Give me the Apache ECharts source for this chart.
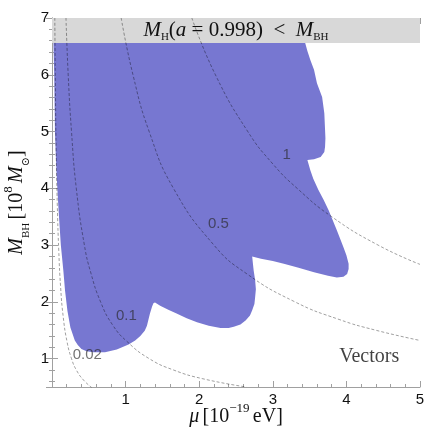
<!DOCTYPE html>
<html>
<head>
<meta charset="utf-8">
<script src="https://cdn.jsdelivr.net/npm/echarts@6/dist/echarts.min.js"></script>
<style>
  html, body { margin: 0; padding: 0; background: #fff; }
  #main { width: 436px; height: 438px; }
</style>
</head>
<body>
<div id="main"></div>
<script>
  // excluded region in the (mu, M_BH) plane, traced along its edge
  var regionEdge = [
    [0.02, 6.56], [0.03, 6.0], [0.04, 5.0], [0.06, 4.3], [0.09, 3.6], [0.12, 3.0],
    [0.154, 2.55], [0.177, 2.2], [0.21, 1.84], [0.25, 1.55], [0.31, 1.32], [0.35, 1.24],
    [0.40, 1.17], [0.47, 1.13], [0.56, 1.11], [0.72, 1.11], [0.88, 1.16], [1.04, 1.25],
    [1.13, 1.32], [1.20, 1.40], [1.26, 1.49], [1.29, 1.58], [1.33, 1.79], [1.36, 1.92],
    [1.38, 1.98], [1.40, 1.99], [1.47, 1.93], [1.58, 1.86], [1.70, 1.79], [1.83, 1.71],
    [1.97, 1.64], [2.13, 1.58], [2.29, 1.54], [2.40, 1.54], [2.47, 1.56], [2.56, 1.60],
    [2.63, 1.67], [2.69, 1.76], [2.72, 1.85], [2.75, 1.96], [2.76, 2.08], [2.77, 2.22],
    [2.76, 2.38], [2.74, 2.55], [2.73, 2.67], [2.72, 2.80], [2.84, 2.76], [3.0, 2.72],
    [3.15, 2.67], [3.35, 2.60], [3.56, 2.52], [3.75, 2.46], [3.87, 2.43], [3.96, 2.44],
    [4.01, 2.49], [4.03, 2.58], [4.03, 2.67], [4.0, 2.82], [3.96, 2.96], [3.87, 3.26],
    [3.76, 3.61], [3.69, 3.80], [3.62, 3.97], [3.55, 4.17], [3.51, 4.32], [3.47, 4.50],
    [3.56, 4.51], [3.65, 4.55], [3.70, 4.64], [3.71, 4.73], [3.715, 4.88], [3.71, 5.03],
    [3.70, 5.32], [3.67, 5.61], [3.60, 5.85], [3.56, 6.09], [3.51, 6.26], [3.47, 6.42],
    [3.44, 6.56]
  ];
  var bandBottom = 6.56;

  // dashed contours
  var contour002 = [[0.038, 7], [0.046, 5.8], [0.056, 4.7], [0.072, 3.7], [0.092, 2.9], [0.117, 2.26],
    [0.153, 1.73], [0.204, 1.3], [0.265, 1.0], [0.335, 0.79], [0.43, 0.62], [0.54, 0.49]];
  var contour01 = [[0.19, 7], [0.22, 6], [0.265, 5], [0.33, 4], [0.44, 3], [0.53, 2.5], [0.66, 2],
    [0.82, 1.6], [1.02, 1.3], [1.32, 1.0], [1.65, 0.8], [2.05, 0.645], [2.64, 0.5]];
  var contour05 = [[0.94, 7], [1.1, 6], [1.32, 5], [1.65, 4], [2.2, 3], [2.64, 2.5], [3.3, 2],
    [3.9, 1.69], [4.4, 1.5], [5, 1.32]];
  var contour1 = [[1.9, 7], [2.22, 6], [2.66, 5], [3.0, 4.43], [3.33, 4], [3.8, 3.5], [4.43, 3], [5, 2.66]];

  var contourNames = ['0.02', '0.1', '0.5', '1'];
  var contourLabelPos = [[0.48, 1.06], [1.01, 1.76], [2.26, 3.38], [3.19, 4.59]];

  var serif = '"Liberation Serif", "DejaVu Serif", serif';
  var sans = '"Liberation Sans", Arial, sans-serif';

  var chart = echarts.init(document.getElementById('main'));

  function renderRegion(params, api) {
    var pts = regionEdge.map(function (p) { return api.coord(p); });
    return {
      type: 'polygon',
      shape: { points: pts },
      style: { fill: '#7777d1' }
    };
  }

  function mathRich(size) {
    return {
      i: { fontFamily: serif, fontStyle: 'italic', fontSize: size, color: '#111', lineHeight: 24 },
      n: { fontFamily: serif, fontSize: size, color: '#111', lineHeight: 24 },
      sub: { fontFamily: serif, fontSize: 11, color: '#111', lineHeight: 15, verticalAlign: 'bottom' },
      sup: { fontFamily: serif, fontSize: 13, color: '#111', lineHeight: 30, verticalAlign: 'top' }
    };
  }

  var frameColor = '#a0a0a0';

  function frameAxis(extra) {
    return Object.assign({
      type: 'value',
      axisLine: { show: true, lineStyle: { color: frameColor, width: 1 } },
      axisTick: { show: true, inside: true, length: 6, lineStyle: { color: frameColor } },
      minorTick: { show: true, splitNumber: 5, length: 3, lineStyle: { color: frameColor } },
      splitLine: { show: false },
      minorSplitLine: { show: false }
    }, extra);
  }

  var dashed = { color: 'rgba(0,0,0,0.42)', width: 0.9, type: [3, 2] };
  function contourSeries(pts) {
    return {
      type: 'line', data: pts, smooth: true, showSymbol: false, silent: true,
      lineStyle: dashed, z: 5
    };
  }

  var option = {
    animation: false,
    grid: { left: 52, right: 16, top: 18, bottom: 51, containLabel: false, outerBoundsMode: 'none' },
    xAxis: [
      frameAxis({
        min: 0, max: 5, interval: 1, position: 'bottom',
        axisLabel: { showMinLabel: false, color: '#111', fontFamily: sans, fontSize: 15, margin: 5 },
        name: '{i|μ} {n|[10}{sup|−19} {n|eV]}',
        nameLocation: 'middle', nameGap: 15, nameMoveOverlap: false,
        nameTextStyle: { rich: mathRich(20) }
      }),
      frameAxis({
        min: 0, max: 5, interval: 1, position: 'top',
        axisLabel: { show: false }
      })
    ],
    yAxis: [
      frameAxis({
        min: 0.5, max: 7, splitNumber: 6, position: 'left',
        axisLabel: { showMinLabel: false, color: '#111', fontFamily: sans, fontSize: 15, margin: 3 },
        name: '{i|M}{sub|BH} {n|[10}{sup|8} {i|M}{sub|⊙}{n|]}',
        nameLocation: 'middle', nameRotate: 90, nameGap: 20, nameMoveOverlap: false,
        nameTextStyle: { rich: mathRich(20) }
      }),
      frameAxis({
        min: 0.5, max: 7, splitNumber: 6, position: 'right',
        axisLabel: { show: false }
      })
    ],
    series: [
      {
        type: 'custom',
        renderItem: renderRegion,
        data: [[0, 0]],
        silent: true,
        z: 1,
        markArea: {
          silent: true,
          itemStyle: { color: '#d8d8d8' },
          label: {
            show: true,
            position: 'inside',
            formatter: '{i|M}{sub|H}{n|(}{i|a }{n|= 0.998)  <  }{i|M}{sub|BH}',
            rich: mathRich(21)
          },
          data: [[{ xAxis: 0, yAxis: bandBottom }, { xAxis: 5, yAxis: 7 }]]
        }
      },
      contourSeries(contour002),
      contourSeries(contour01),
      contourSeries(contour05),
      contourSeries(contour1),
      {
        type: 'scatter',
        symbolSize: 0,
        silent: true,
        z: 6,
        data: contourLabelPos.map(function (p, k) { return { value: p, name: contourNames[k] }; }),
        label: {
          show: true, position: 'inside', formatter: '{b}',
          fontFamily: sans, fontSize: 15, color: 'rgba(40,40,40,0.82)'
        }
      },
      {
        type: 'scatter',
        symbolSize: 0,
        silent: true,
        z: 6,
        data: [{ value: [4.31, 1.03], name: 'Vectors' }],
        label: {
          show: true, position: 'inside', formatter: '{b}',
          fontFamily: serif, fontSize: 20, color: '#111'
        }
      }
    ]
  };

  chart.setOption(option);
</script>
</body>
</html>
